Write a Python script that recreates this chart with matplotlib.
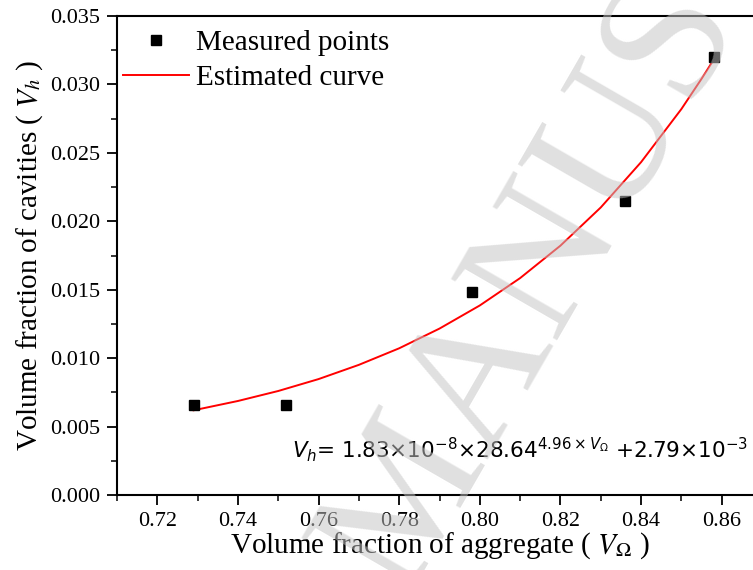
import numpy as np
import matplotlib
matplotlib.use("Agg")
import matplotlib.pyplot as plt
from matplotlib.ticker import MultipleLocator, FormatStrFormatter

# measured points
meas_x = [0.729, 0.752, 0.798, 0.836, 0.858]
meas_y = [0.0066, 0.0066, 0.0148, 0.0215, 0.0320]

# estimated curve
curve_x = [0.729, 0.740, 0.750, 0.760, 0.770, 0.780, 0.790, 0.800,
           0.810, 0.820, 0.830, 0.840, 0.850, 0.855, 0.858]
curve_y = [0.00619, 0.00687, 0.00760, 0.00847, 0.00951, 0.01072, 0.01216, 0.01385,
           0.01585, 0.01822, 0.02101, 0.02432, 0.02820, 0.03041, 0.03180]

x_ticks = [0.72, 0.74, 0.76, 0.78, 0.80, 0.82, 0.84, 0.86]
y_ticks = [0.000, 0.005, 0.010, 0.015, 0.020, 0.025, 0.030, 0.035]

SERIF = ["Liberation Serif", "DejaVu Serif"]

plt.rcParams["font.family"] = SERIF
plt.rcParams["mathtext.fontset"] = "stix"

fig = plt.figure(figsize=(7.53, 5.70), dpi=100)
# right spine lies just past the cropped edge of the picture
ax = fig.add_axes([117 / 753, 1 - 495 / 570, (762 - 117) / 753, (495 - 16) / 570])

ax.plot(curve_x, curve_y, color="red", lw=1.4, label="Estimated curve", zorder=2)
ax.plot(meas_x, meas_y, "s", color="black", ms=7.8, label="Measured points", zorder=3)

ax.set_xlim(0.71, 0.87)
ax.set_ylim(0.0, 0.035)
ax.set_xticks(x_ticks)
ax.set_yticks(y_ticks)
ax.xaxis.set_minor_locator(MultipleLocator(0.01))
ax.yaxis.set_minor_locator(MultipleLocator(0.0025))
ax.xaxis.set_major_formatter(FormatStrFormatter("%.2f"))
ax.yaxis.set_major_formatter(FormatStrFormatter("%.3f"))
ax.tick_params(which="major", direction="out", length=7, width=1.3, labelsize=16, pad=5)
ax.tick_params(which="minor", direction="out", length=4, width=1.1)
ax.tick_params(top=False, right=False)
for s in ax.spines.values():
    s.set_linewidth(1.5)

ax.set_xlabel(r"Volume fraction of aggregate ( $V_{\Omega}$ )", fontsize=21, labelpad=0)
ax.set_ylabel(r"Volume fraction of cavities ( $V_h$ )", fontsize=21, labelpad=4)

h, l = ax.get_legend_handles_labels()
ax.legend(h[::-1], l[::-1], loc="upper left", frameon=False, fontsize=21,
          bbox_to_anchor=(-0.009, 0.995), handlelength=2.26, handletextpad=0.24,
          labelspacing=0.29, borderaxespad=0.0)

ax.text(0.8665, 0.0027,
        r"$V_h$= 1.83$\times$10$^{-8}$$\times$28.64$^{4.96\times V_{\Omega}}$ +2.79$\times$10$^{-3}$",
        fontsize=15.5, family="DejaVu Sans", math_fontfamily="dejavusans",
        ha="right", va="baseline")

# watermark over everything
fig.text(403 / 753, 1 - 599 / 570, "MANUSCRIPT", fontsize=134, family=SERIF,
         color=(0.77, 0.77, 0.77), alpha=0.52, rotation=60, rotation_mode="anchor",
         ha="left", va="baseline", zorder=10)

fig.savefig("out.png", dpi=100)
